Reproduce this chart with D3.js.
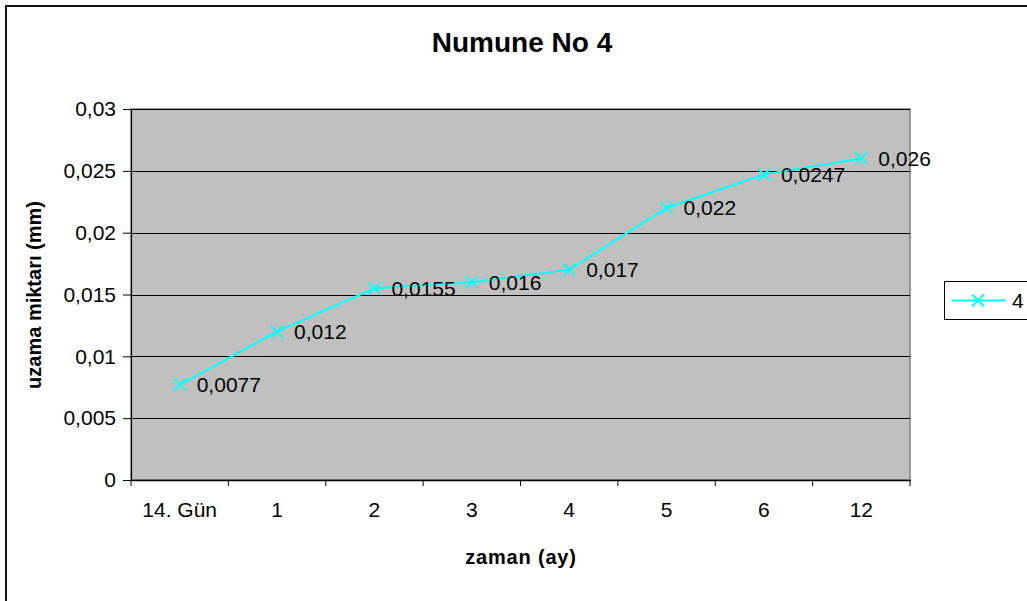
<!DOCTYPE html>
<html><head><meta charset="utf-8">
<script src="https://cdn.jsdelivr.net/npm/d3@7"></script>
<style>html,body{margin:0;padding:0;background:#fff;}svg{display:block;}</style>
</head><body>
<svg id="chart" width="1027" height="601"></svg>
<script>
const categories = ["14. Gün","1","2","3","4","5","6","12"];
const values = [0.0077,0.012,0.0155,0.016,0.017,0.022,0.0247,0.026];
const valueLabels = ["0,0077","0,012","0,0155","0,016","0,017","0,022","0,0247","0,026"];
const yTicks = [0,0.005,0.01,0.015,0.02,0.025,0.03];
const yTickLabels = ["0","0,005","0,01","0,015","0,02","0,025","0,03"];
const seriesName = "4";
const title = "Numune No 4";
const xTitle = "zaman (ay)";
const yTitle = "uzama miktarı (mm)";

const svg = d3.select("#chart");
const font = "Arial, 'Liberation Sans', sans-serif";
const L = 131, R = 910, T = 109, B = 480;
const fs = 21;

svg.append("rect").attr("x",6).attr("y",6).attr("width",1040).attr("height",620)
  .attr("fill","#fff").attr("stroke","#111").attr("stroke-width",2);

const x = d3.scaleBand().domain(categories).range([L,R]).padding(0);
const y = d3.scaleLinear().domain([0,0.03]).range([B,T]);

svg.append("rect").attr("x",L).attr("y",T).attr("width",R-L).attr("height",B-T)
  .attr("fill","#c0c0c0").attr("stroke","#808080").attr("stroke-width",1.5);

// gridlines
svg.append("g").selectAll("line").data(yTicks.slice(1)).join("line")
  .attr("x1",L).attr("x2",R).attr("y1",d=>Math.round(y(d))+0.5).attr("y2",d=>Math.round(y(d))+0.5)
  .attr("stroke","#000").attr("stroke-width",1);

// y axis
const yAxis = d3.axisLeft(y).tickValues(yTicks).tickFormat((d,i)=>yTickLabels[i]).tickSize(8).tickPadding(7);
const gy = svg.append("g").attr("transform",`translate(${L},0)`).call(yAxis);
gy.select(".domain").attr("stroke","#000").attr("stroke-width",1.2);
gy.selectAll(".tick line").attr("stroke","#000");
gy.selectAll("text").attr("font-family",font).attr("font-size",fs).attr("fill","#000");

// x axis
const xAxis = d3.axisBottom(x).tickSize(0).tickPadding(0);
const gx = svg.append("g").attr("transform",`translate(0,${B})`).call(xAxis);
gx.select(".domain").attr("stroke","#000").attr("stroke-width",1.5);
gx.selectAll("text").attr("font-family",font).attr("font-size",fs).attr("fill","#000").attr("dy","1.75em");
const bounds = categories.map(c=>x(c)).concat([R]);
gx.selectAll("line.b").data(bounds).join("line").attr("class","b")
  .attr("x1",d=>d).attr("x2",d=>d).attr("y1",0).attr("y2",6).attr("stroke","#000");

// line
const line = d3.line().x((d,i)=>x(categories[i])+x.bandwidth()/2).y(d=>y(d));
svg.append("path").datum(values).attr("d",line).attr("fill","none").attr("stroke","#00ffff").attr("stroke-width",2);

const m = 6;
const marks = svg.append("g").selectAll("g").data(values).join("g")
  .attr("transform",(d,i)=>`translate(${x(categories[i])+x.bandwidth()/2},${y(d)})`);
marks.append("path").attr("d",`M${-m},${-m}L${m},${m}M${-m},${m}L${m},${-m}`)
  .attr("stroke","#00ffff").attr("stroke-width",1.8);
marks.append("text").attr("x",17).attr("y",7.5).text((d,i)=>valueLabels[i])
  .attr("font-family",font).attr("font-size",fs).attr("fill","#000");

// titles
svg.append("text").attr("x",522).attr("y",52).attr("text-anchor","middle").text(title)
  .attr("font-family",font).attr("font-size",28).attr("font-weight","bold");
svg.append("text").attr("x",521).attr("y",564).attr("text-anchor","middle").text(xTitle)
  .attr("font-family",font).attr("font-size",20).attr("font-weight","bold").attr("letter-spacing",0.8);
svg.append("text").attr("transform","translate(41,295) rotate(-90)").attr("text-anchor","middle").text(yTitle)
  .attr("font-family",font).attr("font-size",20).attr("font-weight","bold");

// legend
const lg = svg.append("g");
lg.append("rect").attr("x",944.5).attr("y",281.5).attr("width",100).attr("height",38)
  .attr("fill","#fff").attr("stroke","#000").attr("stroke-width",1);
lg.append("line").attr("x1",952).attr("x2",1006).attr("y1",300.5).attr("y2",300.5).attr("stroke","#00ffff").attr("stroke-width",2);
lg.append("path").attr("transform","translate(978,300.5)").attr("d",`M${-m},${-m}L${m},${m}M${-m},${m}L${m},${-m}`)
  .attr("stroke","#00ffff").attr("stroke-width",1.8);
lg.append("text").attr("x",1012).attr("y",308).text(seriesName)
  .attr("font-family",font).attr("font-size",fs).attr("fill","#000");
</script>
</body></html>
